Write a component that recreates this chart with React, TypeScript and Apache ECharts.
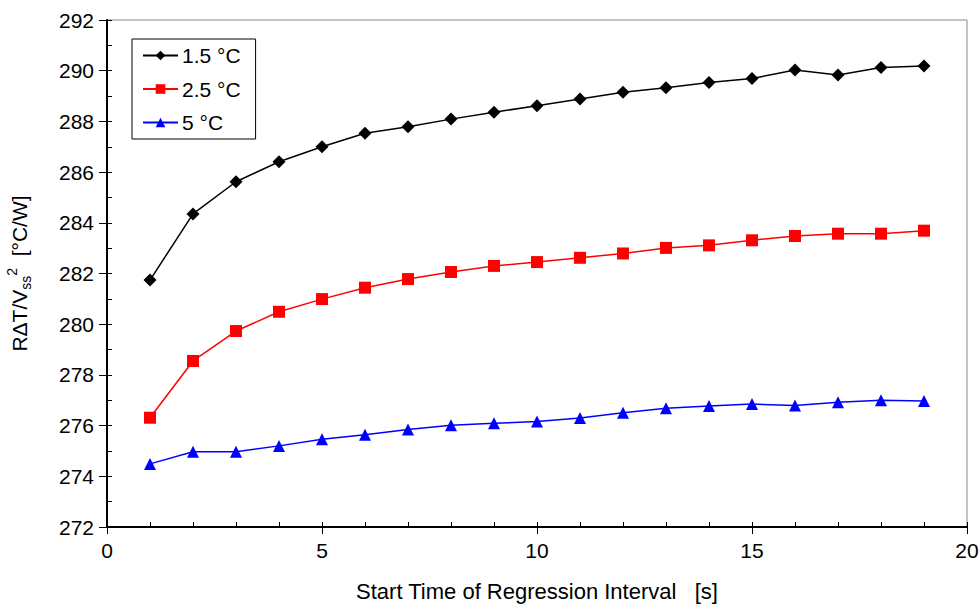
import React, { useEffect, useRef } from "react";
import * as echarts from "echarts";

// Start time of the regression interval [s]
const startTimes = [1, 2, 3, 4, 5, 6, 7, 8, 9, 10, 11, 12, 13, 14, 15, 16, 17, 18, 19];

// RΔT/Vss² [°C/W] for each temperature step
const series15 = [281.74, 284.35, 285.62, 286.41, 287.0, 287.53, 287.79, 288.09, 288.36, 288.62, 288.88, 289.15, 289.33, 289.53, 289.69, 290.03, 289.83, 290.13, 290.19];
const series25 = [276.31, 278.55, 279.73, 280.49, 280.99, 281.44, 281.78, 282.06, 282.3, 282.45, 282.62, 282.79, 283.01, 283.11, 283.31, 283.48, 283.57, 283.57, 283.69];
const series5 = [274.49, 274.97, 274.97, 275.2, 275.46, 275.64, 275.85, 276.01, 276.09, 276.16, 276.3, 276.51, 276.68, 276.77, 276.85, 276.79, 276.92, 277.0, 276.97];

const seriesNames = ["1.5 °C", "2.5 °C", "5 °C"];
const seriesColors = ["#000000", "#ff0000", "#0000ff"];
const seriesSymbols = ["diamond", "rect", "triangle"];

const xMin = 0;
const xMax = 20;
const xStep = 5;
const yMin = 272;
const yMax = 292;
const yStep = 2;

const FONT = "'Liberation Sans', Arial, sans-serif";

export default function App() {
  const ref = useRef<HTMLDivElement>(null);

  useEffect(() => {
    if (!ref.current) return;
    const chart = echarts.init(ref.current, null, { renderer: "svg" });

    const values = [series15, series25, series5];

    chart.setOption({
      animation: false,
      backgroundColor: "#ffffff",
      textStyle: { fontFamily: FONT },
      grid: {
        left: 107,
        top: 20,
        right: 12,
        bottom: 77,
        show: true,
        borderColor: "#888888",
        borderWidth: 1,
        containLabel: false,
        outerBoundsMode: "none",
      },
      legend: {
        orient: "vertical",
        left: 132,
        top: 39,
        padding: [6, 15, 6, 10],
        itemGap: 12.5,
        itemWidth: 35,
        itemHeight: 12,
        borderColor: "#000000",
        borderWidth: 1,
        backgroundColor: "#ffffff",
        textStyle: { fontFamily: FONT, fontSize: 21, color: "#000000", padding: [0, 0, 0, -1] },
        data: seriesNames,
      },
      xAxis: [
        {
          type: "value",
          min: xMin,
          max: xMax,
          interval: xStep,
          name: "Start Time of Regression Interval   [s]",
          nameLocation: "middle",
          nameGap: 53,
          nameTextStyle: { fontFamily: FONT, fontSize: 22, color: "#000000" },
          axisLine: { show: true, onZero: false, lineStyle: { color: "#000000", width: 2 } },
          axisTick: { show: true, length: 7, lineStyle: { color: "#000000", width: 1 } },
          axisLabel: { fontFamily: FONT, fontSize: 21, color: "#000000", margin: 13 },
          splitLine: { show: false },
        },
        {
          type: "value",
          min: xMin,
          max: xMax,
          interval: 1,
          position: "bottom",
          axisLine: { show: false },
          axisTick: { show: true, inside: true, length: 5, lineStyle: { color: "#000000", width: 1 } },
          axisLabel: { show: false },
          splitLine: { show: false },
        },
      ],
      yAxis: [
        {
          type: "value",
          min: yMin,
          max: yMax,
          interval: yStep,
          name: "{m|RΔT/V}{sub|ss}{sup|2}{m|  [°C/W]}",
          nameLocation: "middle",
          nameGap: 74,
          nameRotate: 90,
          nameTextStyle: {
            fontFamily: FONT,
            color: "#000000",
            rich: {
              m: { fontFamily: FONT, fontSize: 21, color: "#000000" },
              sub: { fontFamily: FONT, fontSize: 14, color: "#000000", verticalAlign: "bottom", padding: [10, 0, 0, 0] },
              sup: { fontFamily: FONT, fontSize: 14, color: "#000000", verticalAlign: "top", padding: [0, 0, 14, 0] },
            },
          },
          axisLine: { show: true, onZero: false, lineStyle: { color: "#000000", width: 2 } },
          axisTick: { show: true, length: 8, lineStyle: { color: "#000000", width: 1 } },
          axisLabel: { fontFamily: FONT, fontSize: 21, color: "#000000", margin: 13 },
          splitLine: { show: false },
        },
        {
          type: "value",
          min: yMin,
          max: yMax,
          interval: 1,
          position: "left",
          axisLine: { show: false },
          axisTick: { show: true, inside: true, length: 5, lineStyle: { color: "#000000", width: 1 } },
          axisLabel: { show: false },
          splitLine: { show: false },
        },
        {
          type: "value",
          min: yMin,
          max: yMax,
          position: "right",
          axisLine: { show: true, lineStyle: { color: "#000000", width: 1 } },
          axisTick: { show: false },
          axisLabel: { show: false },
          splitLine: { show: false },
        },
      ],
      series: seriesNames.map((name, i) => ({
        name,
        type: "line",
        xAxisIndex: 0,
        yAxisIndex: 0,
        data: startTimes.map((t, k) => [t, values[i][k]]),
        symbol: seriesSymbols[i],
        symbolSize: i === 0 ? 13 : 12,
        showSymbol: true,
        color: seriesColors[i],
        lineStyle: { color: seriesColors[i], width: 1.5 },
        itemStyle: { color: seriesColors[i] },
        z: 3 - i,
      })),
    });

    return () => chart.dispose();
  }, []);

  return <div ref={ref} style={{ width: 979, height: 604, position: "absolute", left: 0, top: 0 }} />;
}
